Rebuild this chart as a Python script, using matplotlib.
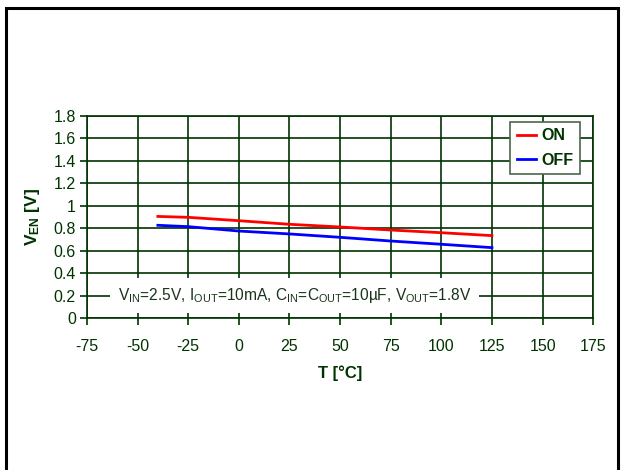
import matplotlib.pyplot as plt
from matplotlib.patches import Rectangle

# temperature points and enable thresholds
temp_c = [-40, -25, 0, 25, 50, 75, 100, 125]
v_on = [0.905, 0.897, 0.867, 0.835, 0.811, 0.784, 0.760, 0.734]
v_off = [0.826, 0.814, 0.775, 0.749, 0.719, 0.686, 0.657, 0.627]

x_ticks = [-75, -50, -25, 0, 25, 50, 75, 100, 125, 150, 175]
y_ticks = [0, 0.2, 0.4, 0.6, 0.8, 1, 1.2, 1.4, 1.6, 1.8]
y_labels = ['0', '0.2', '0.4', '0.6', '0.8', '1', '1.2', '1.4', '1.6', '1.8']

green = '#003300'

plt.rcParams['font.family'] = ['Liberation Sans', 'DejaVu Sans']
plt.rcParams['mathtext.fontset'] = 'custom'
plt.rcParams['mathtext.rm'] = 'Liberation Sans'
plt.rcParams['mathtext.bf'] = 'Liberation Sans:bold'
plt.rcParams['axes.unicode_minus'] = False


def main():
    fig = plt.figure(figsize=(6.23, 4.70), dpi=100)
    ax = fig.add_axes([0.1396, 0.3234, 0.8126, 0.4298])

    # outer frame of the figure
    fig.patches.append(Rectangle((6 / 623, -0.05), 612 / 623, 1.05 - 8 / 470,
                                 transform=fig.transFigure, fill=False,
                                 edgecolor='black', linewidth=2.2))

    ax.plot(temp_c, v_on, color='#ff0000', lw=2, label='ON', zorder=4)
    ax.plot(temp_c, v_off, color='#0000ff', lw=2, label='OFF', zorder=4)

    ax.set_xlim(-75, 175)
    ax.set_ylim(0, 1.8)
    ax.set_xticks(x_ticks)
    ax.set_yticks(y_ticks)
    ax.set_yticklabels(y_labels)
    ax.grid(True, color=green, lw=1.2, zorder=1)
    for s in ax.spines.values():
        s.set_color(green)
        s.set_linewidth(1.2)
    ax.tick_params(direction='out', length=5, width=1.2, color=green,
                   labelcolor=green, labelsize=11.5)
    ax.tick_params(axis='x', pad=10)
    ax.tick_params(axis='y', pad=3)

    ax.set_xlabel('T [°C]', fontsize=12, fontweight='bold', color=green,
                  labelpad=8)
    ax.set_ylabel(r'$\mathbf{V_{EN}}$ [V]', fontsize=12.5, fontweight='bold',
                  color=green, labelpad=8)

    ax.text(27.5, 0.2,
            r'V$_{\mathrm{IN}}$=2.5V, I$_{\mathrm{OUT}}$=10mA, '
            r'C$_{\mathrm{IN}}$=C$_{\mathrm{OUT}}$=10µF, V$_{\mathrm{OUT}}$=1.8V',
            ha='center', va='center', fontsize=11.2, color='#1a331a',
            zorder=5,
            bbox=dict(boxstyle='square,pad=0.5', fc='white', ec='none'))

    leg = ax.legend(loc='upper right', bbox_to_anchor=(0.974, 0.970),
                    fontsize=11.5, frameon=True, fancybox=False,
                    handlelength=1.2, handletextpad=0.35, borderpad=0.4,
                    labelspacing=0.6, borderaxespad=0)
    leg.get_frame().set_edgecolor('#4d664d')
    leg.get_frame().set_linewidth(1.2)
    leg.get_frame().set_alpha(1)
    for t in leg.get_texts():
        t.set_color(green)
        t.set_fontweight('bold')

    plt.savefig('out.png', dpi=100)


if __name__ == "__main__":
    main()
